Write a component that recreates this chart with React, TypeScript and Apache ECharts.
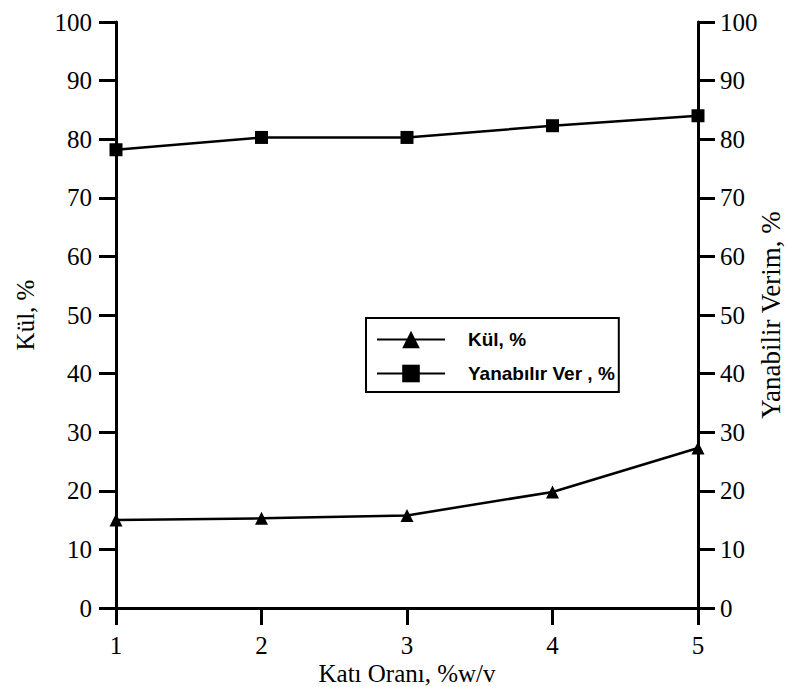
import React, { useEffect, useRef } from "react";
import * as echarts from "echarts";

const katiOrani = [1, 2, 3, 4, 5];
const kulValues = [15.0, 15.3, 15.8, 19.8, 27.3];
const yanabilirValues = [78.2, 80.3, 80.3, 82.3, 84.0];
const xTitle = "Katı Oranı, %w/v";
const yLeftTitle = "Kül, %";
const yRightTitle = "Yanabilir Verim, %";
const legendKul = "Kül, %";
const legendYan = "Yanabılır Ver , %";

export default function App() {
  const ref = useRef<HTMLDivElement>(null);
  useEffect(() => {
    const chart = echarts.init(ref.current!, null, { renderer: "svg" });
    const serif = "Liberation Serif";
    const axisCommon = (pos: "left" | "right") => ({
      type: "value" as const,
      position: pos,
      min: 0,
      max: 100,
      interval: 10,
      axisLine: { show: true, lineStyle: { color: "#000", width: 3 } },
      axisTick: { show: true, inside: false, length: 17, lineStyle: { color: "#000", width: 3 } },
      axisLabel: { show: true, color: "#000", fontFamily: serif, fontSize: 25, margin: pos === "left" ? 24 : 22 },
      splitLine: { show: false },
      nameLocation: "middle" as const,
      nameMoveOverlap: false,
    });
    chart.setOption({
      animation: false,
      backgroundColor: "#fff",
      grid: { left: 116, right: 91, top: 22, bottom: 79, containLabel: false, outerBoundsMode: "none" },
      xAxis: [
        {
          type: "value",
          min: 1,
          max: 5,
          interval: 1,
          position: "bottom",
          axisLine: { show: true, lineStyle: { color: "#000", width: 3 } },
          axisTick: { show: true, inside: false, length: 17, lineStyle: { color: "#000", width: 3 } },
          axisLabel: { color: "#000", fontFamily: serif, fontSize: 25, margin: 25 },
          splitLine: { show: false },
          name: xTitle,
          nameLocation: "middle",
          nameMoveOverlap: false,
          nameGap: 53,
          nameTextStyle: { color: "#000", fontFamily: serif, fontSize: 25 },
        },
        {
          type: "value",
          min: 1,
          max: 5,
          position: "top",
          axisLine: { show: true, lineStyle: { color: "#000", width: 3 } },
          axisTick: { show: false },
          axisLabel: { show: false },
          splitLine: { show: false },
        },
      ],
      yAxis: [
        {
          ...axisCommon("left"),
          name: yLeftTitle,
          nameGap: 78,
          nameTextStyle: { color: "#000", fontFamily: serif, fontSize: 25 },
        },
        {
          ...axisCommon("right"),
          name: yRightTitle,
          nameGap: 59,
          nameTextStyle: { color: "#000", fontFamily: serif, fontSize: 27 },
        },
      ],
      legend: {
        orient: "vertical",
        left: 366,
        top: 318,
        borderColor: "#000",
        borderWidth: 2,
        borderRadius: 0,
        padding: [12, 4, 9, 10],
        itemGap: 15,
        itemWidth: 68,
        itemHeight: 22,
        textStyle: { color: "#000", fontFamily: "Liberation Sans", fontWeight: "bold", fontSize: 19, padding: [0, 0, 0, 18] },
        data: [legendKul, legendYan],
      },
      series: [
        {
          name: legendKul,
          type: "line",
          xAxisIndex: 0,
          yAxisIndex: 0,
          data: katiOrani.map((x, i) => [x, kulValues[i]]),
          symbol: "triangle",
          symbolSize: 13,
          lineStyle: { color: "#000", width: 2.5 },
          itemStyle: { color: "#000" },
        },
        {
          name: legendYan,
          type: "line",
          xAxisIndex: 0,
          yAxisIndex: 1,
          data: katiOrani.map((x, i) => [x, yanabilirValues[i]]),
          symbol: "rect",
          symbolSize: 13,
          lineStyle: { color: "#000", width: 2.5 },
          itemStyle: { color: "#000" },
        },
      ],
    });
    return () => chart.dispose();
  }, []);
  return <div ref={ref} style={{ width: 789, height: 687, position: "absolute", left: 0, top: 0 }} />;
}
